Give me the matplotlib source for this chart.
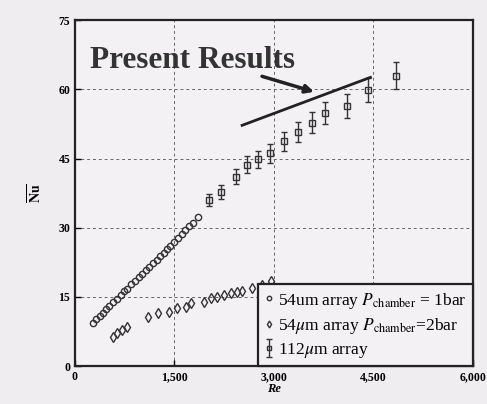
import matplotlib
matplotlib.use('Agg')
import matplotlib.pyplot as plt
from matplotlib.ticker import FuncFormatter

plt.rcParams['font.family'] = 'Liberation Serif'
plt.rcParams['mathtext.fontset'] = 'stix'

# 54um array, 1 bar (dense upper series)
re_1bar = [270, 320, 370, 420, 470, 520, 570, 630, 690, 740, 790, 850, 900, 960, 1010,
           1070, 1120, 1170, 1230, 1280, 1340, 1390, 1440, 1500, 1560, 1610, 1660, 1720, 1780, 1850]
nu_1bar = [9.3, 10.2, 10.8, 11.6, 12.3, 13.0, 13.8, 14.6, 15.4, 16.2, 16.8, 17.7, 18.4, 19.2, 19.9,
           20.8, 21.5, 22.3, 23.0, 23.8, 24.6, 25.4, 26.1, 26.9, 27.8, 28.6, 29.4, 30.3, 31.1, 32.3]

# 54um array, 2 bar (lower series)
re_2bar = [570, 630, 705, 780, 1095, 1245, 1425, 1545, 1680, 1755, 1950, 2055, 2145, 2250,
           2355, 2445, 2520, 2670, 2820, 2950]
nu_2bar = [6.3, 7.2, 7.8, 8.5, 10.7, 11.5, 11.7, 12.6, 12.8, 13.7, 13.9, 14.8, 15.0, 15.4,
           15.9, 16.1, 16.3, 17.0, 17.6, 18.4]

# 112um array with error bars
re_112 = [2025, 2205, 2430, 2600, 2760, 2940, 3150, 3360, 3570, 3765, 4095, 4425, 4845]
nu_112 = [36.1, 37.8, 41.1, 43.7, 44.8, 46.1, 48.7, 50.7, 52.8, 54.8, 56.3, 59.8, 63.0]
err_112 = [1.3, 1.5, 1.6, 1.8, 1.8, 2.0, 2.0, 2.2, 2.3, 2.4, 2.6, 2.6, 2.9]

# "Present Results" line
line_re = [2520, 4455]
line_nu = [52.2, 62.6]

fig = plt.figure(figsize=(4.87, 4.04), dpi=100)
fig.patch.set_facecolor('#efedf0')
ax = fig.add_axes([0.154, 0.094, 0.817, 0.856])
ax.set_facecolor('#f3f1f4')

ax.plot(re_1bar, nu_1bar, 'o', ms=4.5, mfc='none', mec='#333333', mew=1.0,
        label=r'54um array $P_{\mathrm{chamber}}$ = 1bar')
ax.plot(re_2bar, nu_2bar, 'd', ms=5, mfc='none', mec='#333333', mew=1.0,
        label=r'54$\mu$m array $P_{\mathrm{chamber}}$=2bar')
ax.errorbar(re_112, nu_112, yerr=err_112, fmt='s', ms=5, mfc='none', mec='#333333',
            mew=1.0, ecolor='#333333', elinewidth=1.0, capsize=2,
            label=r'112$\mu$m array')

ax.plot(line_re, line_nu, '-', color='#222222', lw=2)
ax.annotate('', xy=(3645, 59.3), xytext=(2780, 63.0),
            arrowprops=dict(arrowstyle='-|>', color='#222222', lw=2.5, mutation_scale=12))
ax.text(225, 66.3, 'Present Results', fontsize=22.5, fontweight='bold', color='#333333',
        va='center')

ax.set_xlim(0, 6000)
ax.set_ylim(0, 75)
ax.set_xticks([0, 1500, 3000, 4500, 6000])
ax.set_yticks([0, 15, 30, 45, 60, 75])
ax.xaxis.set_major_formatter(FuncFormatter(lambda v, p: '{:,.0f}'.format(v)))
ax.grid(True, linestyle='--', color='#666666', lw=0.7, dashes=(3, 3))
ax.tick_params(direction='in', length=4, labelsize=8.5, width=1)
for lab in ax.get_xticklabels() + ax.get_yticklabels():
    lab.set_fontweight('bold')
for s in ax.spines.values():
    s.set_linewidth(1.6)
    s.set_color('#222222')

ax.set_xlabel('Re', fontsize=9, style='italic', fontweight='bold', labelpad=0)
ax.set_ylabel(r'$\overline{\mathbf{Nu}}$', fontsize=10, labelpad=10)

leg = ax.legend(loc='lower right', borderaxespad=0, fontsize=12.5, fancybox=False,
                handlelength=0.5, handletextpad=0.3, markerscale=0.7, framealpha=1,
                facecolor='#f3f1f4', labelspacing=0.3, borderpad=0.35)
leg.get_frame().set_edgecolor('#222222')
leg.get_frame().set_linewidth(1.6)

fig.savefig('out.png', dpi=100, facecolor=fig.get_facecolor())
